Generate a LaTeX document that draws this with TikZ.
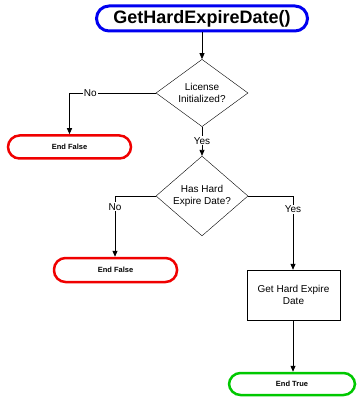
\documentclass[tikz,border=0pt]{standalone}
\usepackage{fontspec}
\setmainfont{Liberation Sans}
\usetikzlibrary{shapes.geometric,arrows.meta}
\definecolor{tblue}{RGB}{0,0,240}
\definecolor{tred}{RGB}{240,0,0}
\definecolor{tgreen}{RGB}{0,200,0}
\tikzset{
  term/.style={draw, rectangle, rounded corners=11.5pt, inner sep=0pt, minimum height=23pt, minimum width=123pt, line width=2.5pt, font=\fontsize{7.5}{9}\selectfont\bfseries},
  dec/.style={draw, diamond, inner sep=0pt, minimum width=92pt, minimum height=55pt, align=center, font=\fontsize{10}{12.7}\selectfont},
  proc/.style={draw, rectangle, inner sep=0pt, minimum width=93pt, minimum height=50pt, align=center, font=\fontsize{10}{12.7}\selectfont},
  conn/.style={draw, line width=0.8pt, -{Triangle[length=6pt,width=5pt]}},
  lab/.style={fill=white, inner sep=1pt, font=\fontsize{10}{12}\selectfont}
}
\begin{document}
\begin{tikzpicture}[x=1pt,y=-1pt]
\useasboundingbox (0,0) rectangle (357,403);
\node[term, draw=tblue, line width=3pt, rounded corners=12.5pt, minimum width=211pt, minimum height=25pt, font=\fontsize{18}{20}\selectfont\bfseries] (title) at (202,18.5) {GetHardExpireDate()};
\node[dec] (d1) at (202,93) {License\\Initialized?};
\node[term, draw=tred] (ef1) at (69.5,147) {End False};
\node[dec] (d2) at (202,196) {Has Hard\\Expire Date?};
\node[term, draw=tred, minimum height=24pt] (ef2) at (115.5,270) {End False};
\node[proc] (box) at (293.5,295) {Get Hard Expire\\Date};
\node[term, draw=tgreen, minimum width=126pt, minimum height=22pt] (et) at (292,384) {End True};
\draw[conn] (title) -- (d1);
\draw[conn] (d1.west) -| node[lab, pos=0.38] {No} (ef1.north);
\draw[conn] (d1.south) -- node[lab, pos=0.48] {Yes} (d2.north);
\draw[conn] (d2.west) -| node[lab, pos=0.59] {No} ([xshift=-0.5pt]ef2.north);
\draw[conn] (d2.east) -| node[lab, pos=0.59] {Yes} ([xshift=-0.5pt]box.north);
\draw[conn] ([xshift=-0.5pt]box.south) -- ([xshift=-0.5pt]box.south |- et.north);
\end{tikzpicture}
\end{document}
